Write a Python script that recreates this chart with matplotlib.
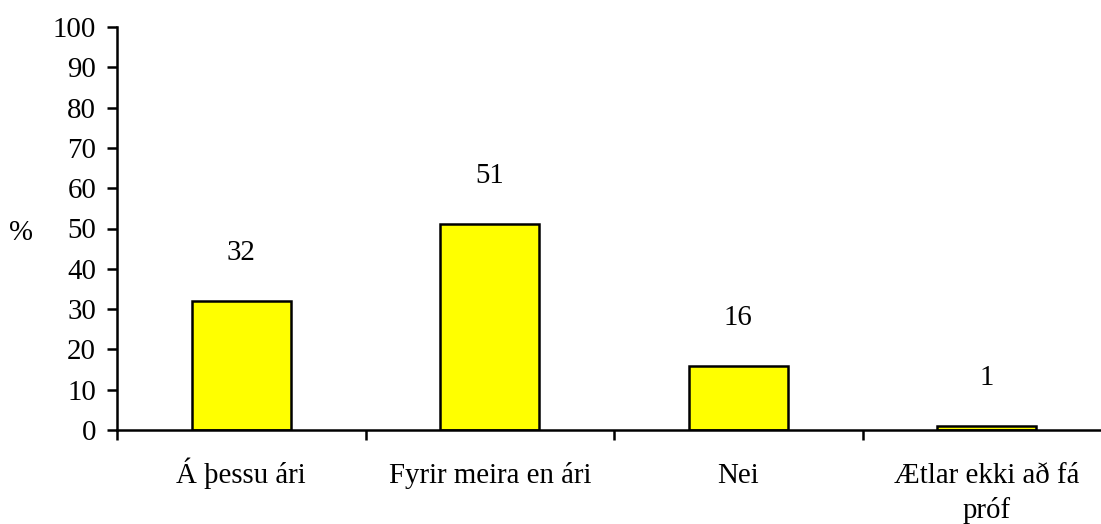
import matplotlib as mpl
from matplotlib import pyplot as plt
from matplotlib import transforms

categories = ["Á þessu ári", "Fyrir meira en ári", "Nei", "Ætlar ekki að fá\npróf"]
values = [32, 51, 16, 1]
yticks = list(range(0, 101, 10))

mpl.rcParams["font.family"] = ["Liberation Serif", "DejaVu Serif"]
mpl.rcParams["font.size"] = 20.8

W, H = 1101, 524
fig = plt.figure(figsize=(W / 100, H / 100), dpi=100)
ax = fig.add_axes([117 / W, 1 - 430 / H, (1111 - 117) / W, 403 / H])

xs = list(range(len(values)))
ax.bar(xs, values, width=0.4, color="#ffff00", edgecolor="black", linewidth=1.8)
for x, v in zip(xs, values):
    ax.annotate(str(v), (x, v), xytext=(0, 29.5), textcoords="offset points",
                ha="center", va="baseline")

ax.set_xlim(-0.5, len(values) - 0.5)
ax.set_ylim(0, 100)
ax.set_yticks(yticks)
ax.set_xticks([])
ax.set_xticks([i - 0.5 for i in range(len(values) + 1)], minor=True)
ax.tick_params(axis="x", which="minor", length=7, width=1.8, direction="out",
               labelbottom=False)
ax.tick_params(axis="y", length=7, width=1.8, direction="out", pad=8)

# category labels, one text per line so baselines line up with the reference
trans = transforms.blended_transform_factory(ax.transData, ax.transAxes)
for x, lab in zip(xs, categories):
    for k, line in enumerate(lab.split("\n")):
        ax.text(x, -(483 + 35 * k - 430) / 403, line, transform=trans,
                ha="center", va="baseline")

for side in ["top", "right"]:
    ax.spines[side].set_visible(False)
for side in ["left", "bottom"]:
    ax.spines[side].set_linewidth(1.8)

fig.text(20.5 / W, 1 - 240 / H, "%", ha="center", va="baseline")

plt.savefig("out.png", dpi=100)
plt.close()
